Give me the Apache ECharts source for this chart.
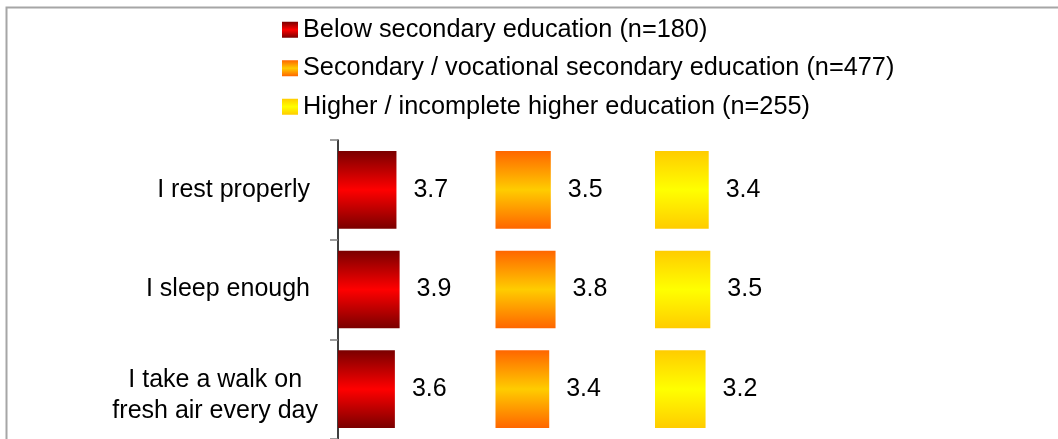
<!DOCTYPE html>
<html>
<head>
<meta charset="utf-8">
<script src="https://cdn.jsdelivr.net/npm/echarts@6/dist/echarts.min.js"></script>
<style>
  html, body { margin: 0; padding: 0; background: #fff; }
  #chart { width: 1058px; height: 439px; }
</style>
</head>
<body>
<div id="chart"></div>
<script>
// ---- data ----
const categories = ['I rest properly', 'I sleep enough', 'I take a walk on\nfresh air every day'];
const seriesNames = [
  'Below secondary education (n=180)',
  'Secondary / vocational secondary education (n=477)',
  'Higher / incomplete higher education (n=255)'
];
const belowSecondary = [3.7, 3.9, 3.6];
const secondaryVocational = [3.5, 3.8, 3.4];
const higherEducation = [3.4, 3.5, 3.2];

// ---- styling ----
const FONT = '"Liberation Sans", Arial, sans-serif';
function grad(edge, center) {
  return {
    type: 'linear', x: 0, y: 0, x2: 0, y2: 1,
    colorStops: [
      { offset: 0, color: edge },
      { offset: 0.5, color: center },
      { offset: 1, color: edge }
    ]
  };
}
const colors = [grad('#7a0000', '#ff0000'), grad('#ff6600', '#ffcc00'), grad('#ffcc00', '#ffff00')];
const seriesData = [belowSecondary, secondaryVocational, higherEducation];
const gridLefts = [338, 495.5, 655];

const grids = gridLefts.map(l => ({ left: l, top: 140, width: 158, height: 303, containLabel: false }));
const xAxes = gridLefts.map((l, i) => ({
  type: 'value', gridIndex: i, min: 0, max: 10, show: false
}));
const yAxes = gridLefts.map((l, i) => ({
  type: 'category', gridIndex: i, data: categories, inverse: true,
  show: i === 0,
  axisLine: { show: i === 0, lineStyle: { color: '#000', width: 1.5 } },
  axisTick: { show: i === 0, length: 8, lineStyle: { color: '#808080', width: 1.5 } },
  axisLabel: {
    show: i === 0,
    margin: 20,
    formatter: function (v) {
      const parts = v.split('\n');
      if (parts.length > 1) {
        return '{b1|' + parts[0] + '}\n{b2|' + parts[1] + '}';
      }
      return '{a|' + v + '}';
    },
    rich: {
      a: { fontFamily: FONT, fontSize: 25, color: '#000', padding: [0, 8, 0, 0] },
      b1: { fontFamily: FONT, fontSize: 25, color: '#000', lineHeight: 44, align: 'center' },
      b2: { fontFamily: FONT, fontSize: 25, color: '#000', lineHeight: 19, align: 'center' }
    }
  },
  splitLine: { show: false }
}));

const series = seriesData.map((d, i) => ({
  name: seriesNames[i],
  type: 'bar',
  xAxisIndex: i,
  yAxisIndex: i,
  data: d,
  barCategoryGap: '22%',
  itemStyle: { color: colors[i] },
  label: {
    show: true, position: 'right', distance: 17,
    fontFamily: FONT, fontSize: 25, color: '#000',
    formatter: p => p.value.toFixed(1)
  },
  emphasis: { disabled: true },
  animation: false
}));

const chart = echarts.init(document.getElementById('chart'));
chart.setOption({
  animation: false,
  backgroundColor: '#fff',
  graphic: [{
    type: 'rect', silent: true, z: -10,
    shape: { x: 6.5, y: 7.5, width: 1200, height: 600 },
    style: { fill: 'none', stroke: '#a6a6a6', lineWidth: 2 }
  }],
  legend: {
    orient: 'vertical',
    left: 277, top: 12,
    itemWidth: 16, itemHeight: 16, itemGap: 13,
    selectedMode: false,
    icon: 'rect',
    data: seriesNames,
    textStyle: { fontFamily: FONT, fontSize: 25.3, color: '#000', lineHeight: 25.5 }
  },
  grid: grids,
  xAxis: xAxes,
  yAxis: yAxes,
  series: series
});
</script>
</body>
</html>
